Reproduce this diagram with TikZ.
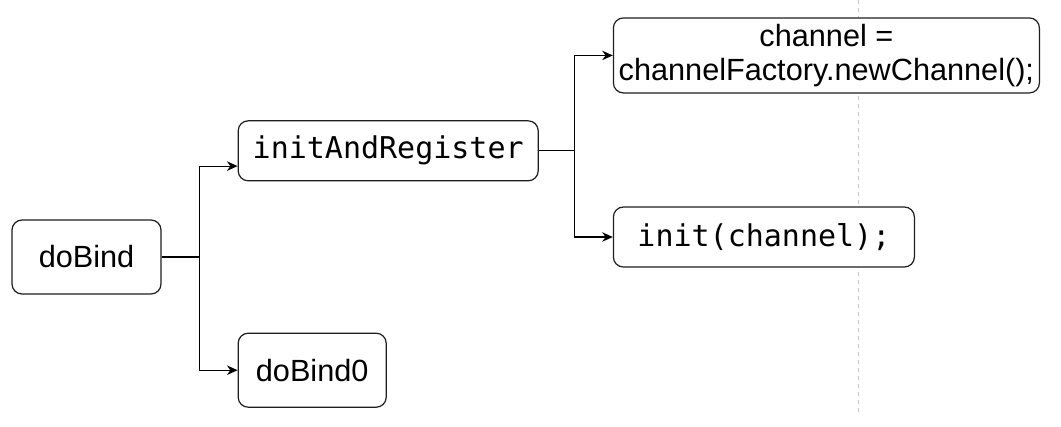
\documentclass[tikz,border=0pt]{standalone}
\usepackage{fontspec}
\setmainfont{Liberation Sans}
\setmonofont{DejaVu Sans Mono}
\usetikzlibrary{positioning,arrows.meta,calc}
\definecolor{EdgeGray}{RGB}{30,30,30}
\definecolor{GuideGray}{RGB}{200,200,200}
\tikzset{
  flow/.style={-{Stealth[length=2.8mm,width=2.5mm,inset=0.9mm]},line width=0.9pt,draw=black},
  box/.style={draw=EdgeGray,fill=white,rounded corners=7.5pt,line width=0.9pt,
    minimum height=55.5pt,align=center,inner sep=2pt,
    font=\fontsize{23}{25}\selectfont},
  codebox/.style={box,minimum height=45pt,
    font=\fontsize{22.5}{25}\selectfont\ttfamily},
  guide/.style={draw=GuideGray,dashed,line width=0.75pt}
}

\begin{document}
\begin{tikzpicture}[x=0.75pt,y=-0.75pt]
  \useasboundingbox (0,0) rectangle (1061,426);
  % guide line, behind the boxes
  \draw[guide] (858,0) -- (858,415);
  \node[box,minimum width=111.75pt] (dobind) at (86.5,257) {doBind};
  \node[codebox,minimum width=225pt,above right=28.5pt and 57pt of dobind] (iar) {initAndRegister};
  \node[box,minimum width=111pt,below right=28.5pt and 57pt of dobind] (dobind0) {doBind0};
  \node[box,minimum width=319.5pt,minimum height=56.25pt,above right=20pt and 55.5pt of iar] (newch) {
    channel =\\channelFactory.newChannel();};
  \node[codebox,minimum width=225.75pt,below right=18.75pt and 55.5pt of iar] (initch) {init(channel);};
  \coordinate (iarin) at ($(iar.south west)!0.25!(iar.north west)$);
  \draw[flow] (dobind.east) -- ++(38,0) |- (iarin);
  \draw[flow] (dobind.east) -- ++(38,0) |- (dobind0.west);
  \draw[flow] (iar.east) -- ++(36,0) |- (newch.west);
  \draw[flow] (iar.east) -- ++(36,0) |- (initch.west);
\end{tikzpicture}
\end{document}
